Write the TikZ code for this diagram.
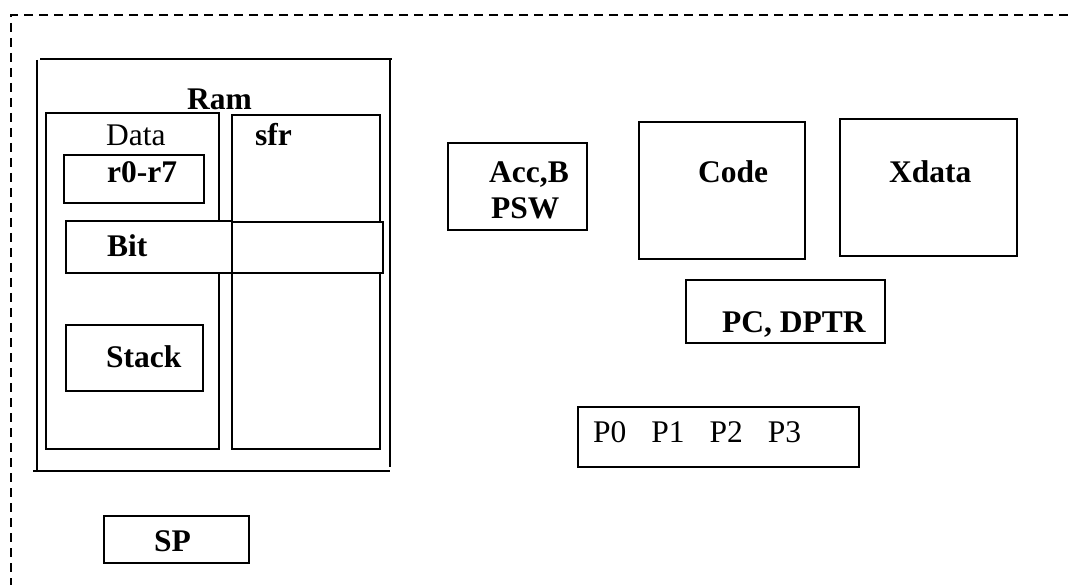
\documentclass[tikz,border=0pt]{standalone}
\usepackage{fontspec}
\setmainfont{Liberation Serif}
\begin{document}
\begin{tikzpicture}[x=1pt,y=-1pt,
  box/.style={draw,line width=2pt,fill=white,inner sep=0pt,anchor=north west},
  lbl/.style={anchor=base west,inner sep=0pt,font=\fontsize{31.5}{36}\selectfont\bfseries},
  lblr/.style={anchor=base west,inner sep=0pt,font=\fontsize{31.5}{36}\selectfont},
  frameline/.style={line width=1.6pt,dash pattern=on 9pt off 6pt},
  ramline/.style={line width=2pt}]
\useasboundingbox (0,0) rectangle (1068,585);
% dashed frame
\coordinate (ftl) at (11,15);
\coordinate (ftr) at (1068,15);
\coordinate (fbl) at (11,585);
\draw[frameline] (ftr) -- (ftl) -- (fbl);
% Ram outer
\coordinate (rtl) at (40,59);
\coordinate (rtr) at (392,59);
\coordinate (rl1) at (37,60);
\coordinate (rl2) at (37,471);
\coordinate (rr1) at (390,59);
\coordinate (rr2) at (390,467);
\coordinate (rb1) at (33,471);
\coordinate (rb2) at (390,471);
\draw[ramline] (rtl) -- (rtr);
\draw[ramline] (rl1) -- (rl2);
\draw[ramline] (rr1) -- (rr2);
\draw[ramline] (rb1) -- (rb2);
% inner boxes
\node[box,minimum width=173pt,minimum height=336pt] (data) at (45,112) {};
\node[box,minimum width=148pt,minimum height=334pt] (sfr) at (231,114) {};
\node[box,minimum width=140pt,minimum height=48pt] (r07) at (63,154) {};
\node[box,minimum width=166pt,minimum height=52pt] (bit) at (65,220) {};
\node[box,minimum width=151pt,minimum height=51pt] (bitx) at (231,221) {};
\node[box,minimum width=137pt,minimum height=66pt] (stack) at (65,324) {};
\node[box,minimum width=145pt,minimum height=47pt] (sp) at (103,515) {};
\node[box,minimum width=139pt,minimum height=87pt] (acc) at (447,142) {};
\node[box,minimum width=166pt,minimum height=137pt] (code) at (638,121) {};
\node[box,minimum width=177pt,minimum height=137pt] (xdata) at (839,118) {};
\node[box,minimum width=199pt,minimum height=63pt] (pc) at (685,279) {};
\node[box,minimum width=281pt,minimum height=60pt] (ports) at (577,406) {};
% labels
\node[lbl] (tram) at (187,110) {Ram};
\node[lblr] (tdata) at (106,146) {Data};
\node[lbl] (tsfr) at (255,146) {sfr};
\node[lbl] (tr07) at (107,183) {r0-r7};
\node[lbl] (tbit) at (107,257) {Bit};
\node[lbl] (tstack) at (106,367) {Stack};
\node[lbl] (tsp) at (154,551) {SP};
\node[lbl] (tacc) at (489,183) {Acc,B};
\node[lbl] (tpsw) at (491,219) {PSW};
\node[lbl] (tcode) at (698,183) {Code};
\node[lbl] (txdata) at (889,183) {Xdata};
\node[lbl] (tpc) at (722,332) {PC, DPTR};
\node[lblr] (tports) at (593,442) {P0\hspace{25pt}P1\hspace{25pt}P2\hspace{25pt}P3};
\end{tikzpicture}
\end{document}
